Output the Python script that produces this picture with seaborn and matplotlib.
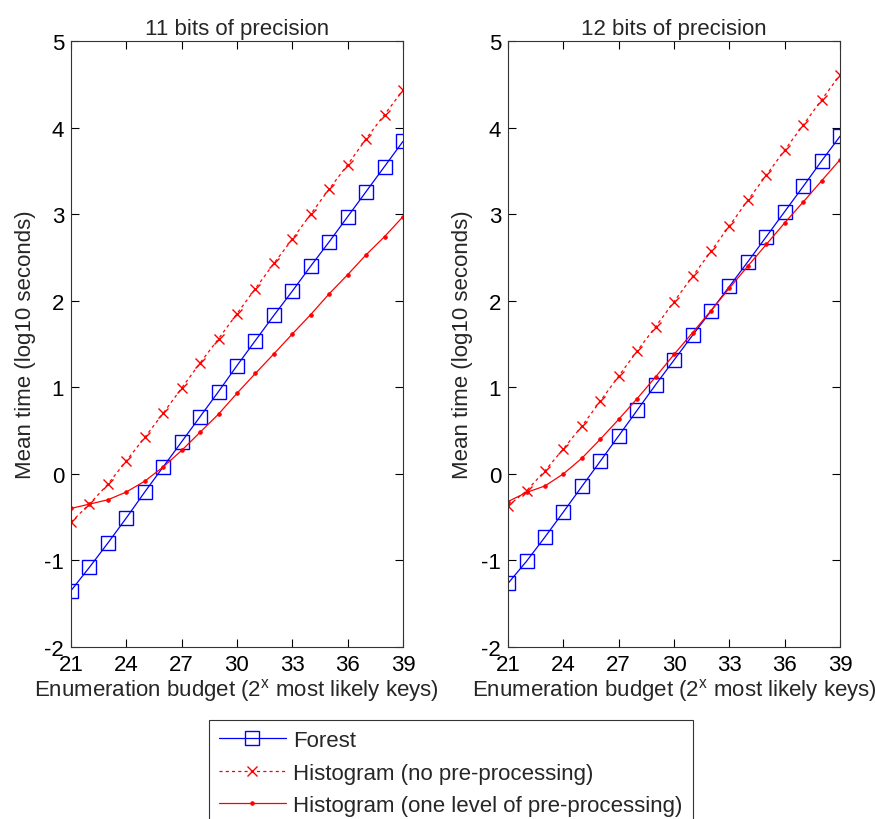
import numpy as np
import pandas as pd
import seaborn as sns
import matplotlib.pyplot as plt
from matplotlib.ticker import FixedLocator

# Enumeration budget (x in 2^x)
budget = list(range(21, 40))

# 11 bits of precision
forest_11 = [-1.35, -1.08, -0.80, -0.51, -0.21, 0.08, 0.37, 0.66, 0.95, 1.25,
             1.54, 1.83, 2.11, 2.40, 2.68, 2.97, 3.26, 3.55, 3.84]
hist_no_11 = [-0.56, -0.35, -0.12, 0.15, 0.42, 0.70, 0.99, 1.28, 1.56, 1.85,
              2.14, 2.43, 2.71, 3.00, 3.29, 3.57, 3.87, 4.15, 4.43]
hist_one_11 = [-0.40, -0.35, -0.30, -0.21, -0.085, 0.08, 0.27, 0.48, 0.69, 0.93,
               1.16, 1.385, 1.615, 1.84, 2.08, 2.30, 2.53, 2.74, 2.97]

# 12 bits of precision
forest_12 = [-1.265, -1.01, -0.73, -0.44, -0.146, 0.146, 0.44, 0.735, 1.03, 1.315,
             1.60, 1.88, 2.165, 2.45, 2.74, 3.03, 3.32, 3.615, 3.90]
hist_no_12 = [-0.37, -0.196, 0.035, 0.29, 0.55, 0.84, 1.13, 1.42, 1.70, 1.99,
              2.28, 2.57, 2.865, 3.16, 3.45, 3.74, 4.03, 4.32, 4.61]
hist_one_12 = [-0.32, -0.215, -0.14, 0.0, 0.18, 0.40, 0.63, 0.87, 1.12, 1.38,
               1.63, 1.885, 2.146, 2.40, 2.65, 2.90, 3.14, 3.385, 3.63]

titles = ["11 bits of precision", "12 bits of precision"]
labels = ["Forest", "Histogram (no pre-processing)",
          "Histogram (one level of pre-processing)"]

sns.set_style("ticks")
plt.rcParams['font.family'] = ['Liberation Sans', 'DejaVu Sans']
plt.rcParams['font.size'] = 16
plt.rcParams['axes.unicode_minus'] = False

fig = plt.figure(figsize=(8.76, 8.2), dpi=100)
ax1 = fig.add_axes([0.081, 0.2098, 0.379, 0.739])
ax2 = fig.add_axes([0.580, 0.2098, 0.379, 0.739])

panels = [(ax1, forest_11, hist_no_11, hist_one_11),
          (ax2, forest_12, hist_no_12, hist_one_12)]

for i, (ax, fo, hn, ho) in enumerate(panels):
    sns.lineplot(x=budget, y=fo, ax=ax, color='blue', linewidth=0.9,
                 marker='s', markersize=10, markerfacecolor='none',
                 markeredgecolor='blue', markeredgewidth=1.0, label=labels[0])
    sns.lineplot(x=budget, y=hn, ax=ax, color='red', linewidth=0.9,
                 linestyle=(0, (2.5, 2.5)), marker='x', markersize=7.5,
                 markeredgecolor='red', markeredgewidth=1.0, label=labels[1])
    sns.lineplot(x=budget, y=ho, ax=ax, color='red', linewidth=0.9,
                 marker='o', markersize=2.5, markeredgecolor='red',
                 markerfacecolor='red', label=labels[2])
    ax.set_xlim(21, 39)
    ax.set_ylim(-2, 5)
    ax.xaxis.set_major_locator(FixedLocator(range(21, 40, 3)))
    ax.yaxis.set_major_locator(FixedLocator(range(-2, 6)))
    ax.tick_params(direction='in', top=True, right=True, length=6,
                   width=0.8, labelsize=16, colors='black', pad=5)
    for s in ax.spines.values():
        s.set_visible(True)
        s.set_linewidth(0.8)
        s.set_color('#333333')
    ax.set_title(titles[i], fontsize=16, pad=5)
    ax.set_xlabel(r"Enumeration budget (2$^{\mathregular{x}}$ most likely keys)",
                  fontsize=16, labelpad=1)
    ax.set_ylabel("Mean time (log10 seconds)", fontsize=16, labelpad=6)
    ax.get_legend().remove()

handles, lbls = ax1.get_legend_handles_labels()
leg = fig.legend(handles, lbls, loc='upper left',
                 bbox_to_anchor=(0.2386, 0.1207), frameon=True, fancybox=False,
                 fontsize=16, handlelength=3.0, labelspacing=0.52,
                 borderpad=0.45, handletextpad=0.35, borderaxespad=0)
leg.get_frame().set_edgecolor('black')
leg.get_frame().set_linewidth(0.8)

fig.savefig("out.png", dpi=100)
